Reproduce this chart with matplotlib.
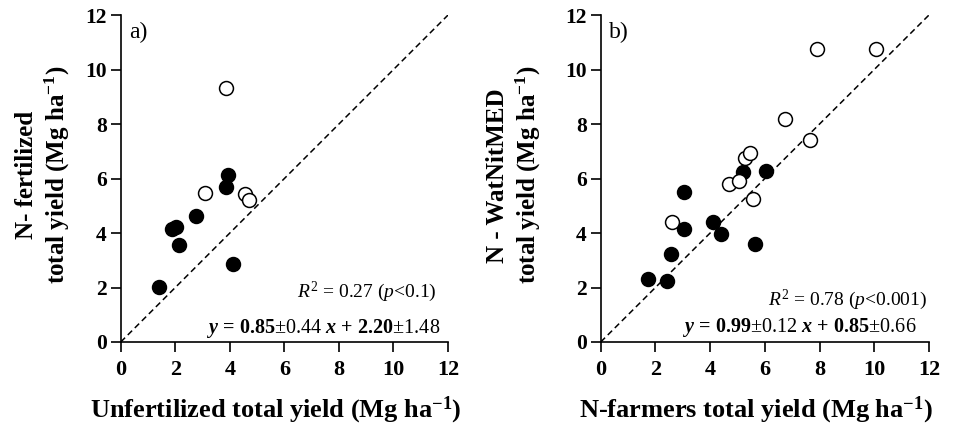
import matplotlib
matplotlib.use("Agg")
import matplotlib.pyplot as plt

plt.rcParams['font.family'] = ['Liberation Serif', 'DejaVu Serif']
plt.rcParams['mathtext.fontset'] = 'custom'
plt.rcParams['mathtext.rm'] = 'Liberation Serif'
plt.rcParams['mathtext.it'] = 'Liberation Serif:italic'
plt.rcParams['mathtext.bf'] = 'Liberation Serif:bold'
plt.rcParams['mathtext.bfit'] = 'Liberation Serif:bold:italic'

# panel a) unfertilized vs N-fertilized
a_filled_x = [1.40, 1.89, 2.04, 2.13, 2.75, 3.86, 3.95, 4.12]
a_filled_y = [2.02, 4.14, 4.22, 3.56, 4.61, 5.70, 6.12, 2.87]
a_open_x = [3.86, 3.08, 4.57, 4.70]
a_open_y = [9.33, 5.45, 5.43, 5.22]

# panel b) N-farmers vs N-WatNitMED
b_filled_x = [1.74, 2.42, 2.56, 3.03, 3.05, 4.09, 4.38, 5.21, 5.65, 6.03]
b_filled_y = [2.31, 2.24, 3.24, 5.49, 4.16, 4.41, 3.96, 6.23, 3.61, 6.28]
b_open_x = [2.62, 4.69, 5.04, 5.26, 5.44, 5.55, 6.75, 7.65, 7.89, 10.07]
b_open_y = [4.40, 5.81, 5.92, 6.77, 6.92, 5.24, 8.17, 7.43, 10.77, 10.76]

ticks = [0, 2, 4, 6, 8, 10, 12]
tick_labels = ['0', '2', '4', '6', '8', '10', '12']

fig = plt.figure(figsize=(9.59, 4.29), dpi=100)
ax1 = fig.add_axes([0.1259, 0.2028, 0.3413, 0.7622])
ax2 = fig.add_axes([0.6264, 0.2028, 0.3423, 0.7622])

def style_axes(ax, letter, xlabel, ylabel, xl_x, yl_x):
    ax.plot([0, 12], [0, 12], color='black', lw=1.1, dashes=(4, 2.5), zorder=1)
    ax.set_xlim(0, 12)
    ax.set_ylim(0, 12)
    for s in ['top', 'right']:
        ax.spines[s].set_visible(False)
    for s in ['left', 'bottom']:
        ax.spines[s].set_linewidth(1.2)
    ax.tick_params(axis='both', direction='out', length=7, width=1.2)
    ax.tick_params(axis='x', pad=6)
    ax.tick_params(axis='y', pad=3)
    ax.set_xticks(ticks)
    ax.set_yticks(ticks)
    ax.set_xticklabels(tick_labels)
    ax.set_yticklabels(tick_labels)
    ax.set_xlabel(xlabel, fontsize=19, fontweight='bold')
    ax.xaxis.set_label_coords(xl_x, -0.16)
    ax.set_ylabel(ylabel, fontsize=18, fontweight='bold', linespacing=1.2,
                  multialignment='center')
    ax.yaxis.set_label_coords(yl_x, 0.51)
    ax.text(0.3, 11.75, letter, fontsize=17, ha='left', va='top')

def points(ax, fx, fy, ox, oy):
    ax.scatter(fx, fy, s=100, facecolor='black', edgecolor='black', lw=1.1, zorder=3)
    ax.scatter(ox, oy, s=100, facecolor='white', edgecolor='black', lw=1.1, zorder=3)

points(ax1, a_filled_x, a_filled_y, a_open_x, a_open_y)
points(ax2, b_filled_x, b_filled_y, b_open_x, b_open_y)

style_axes(ax1, 'a)', r'Unfertilized total yield (Mg ha$^{\mathbf{-1}}$)',
           'N- fertilized\ntotal yield (Mg ha$^{\\mathbf{-1}}$)', 0.475, -0.149)
style_axes(ax2, 'b)', r'N-farmers total yield (Mg ha$^{\mathbf{-1}}$)',
           'N - WatNitMED\ntotal yield (Mg ha$^{\\mathbf{-1}}$)', 0.474, -0.176)

ax1.text(11.6, 1.83, r'$R^2$ = 0.27 ($p$<0.1)', fontsize=14, ha='right', va='center')
ax1.text(11.7, 0.51, r'$\mathbfit{y}\mathbf{\,=\,0.85}\mathrm{\pm0.44}\ \mathbfit{x}\mathbf{\,+\,2.20}\mathrm{\pm1.48}$',
         fontsize=14.5, ha='right', va='center')
ax2.text(11.95, 1.54, r'$R^2$ = 0.78 ($p$<0.001)', fontsize=14, ha='right', va='center')
ax2.text(11.55, 0.55, r'$\mathbfit{y}\mathbf{\,=\,0.99}\mathrm{\pm0.12}\ \mathbfit{x}\mathbf{\,+\,0.85}\mathrm{\pm0.66}$',
         fontsize=14.5, ha='right', va='center')

# tick labels bold (set after a draw so every tick picks it up)
fig.canvas.draw()
for ax in [ax1, ax2]:
    for lab in ax.get_xticklabels():
        lab.set_fontweight('bold')
        lab.set_fontsize(16)
    for lab in ax.get_yticklabels():
        lab.set_fontweight('bold')
        lab.set_fontsize(15.5)

plt.savefig('out.png', dpi=100)
